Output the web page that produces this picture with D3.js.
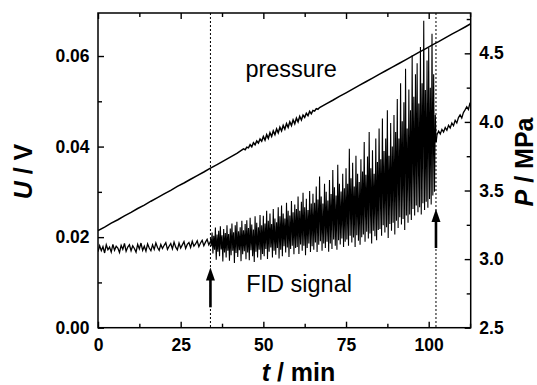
<!DOCTYPE html>
<html><head><meta charset="utf-8">
<script src="https://cdn.jsdelivr.net/npm/d3@7"></script>
<style>html,body{margin:0;padding:0;background:#fff;} svg{display:block;font-family:"Liberation Sans",Arial,sans-serif;}</style>
</head><body><svg id="chart" width="537" height="385"></svg>
<script>
// ---------- data ----------
const xTicks = [0, 25, 50, 75, 100];
const xMinor = [12.5, 37.5, 62.5, 87.5, 112.5];
const uTicks = [0, 0.02, 0.04, 0.06];
const uMinor = [0.01, 0.03, 0.05];
const pTicks = [2.5, 3.0, 3.5, 4.0, 4.5];
const pMinor = [2.75, 3.25, 3.75, 4.25, 4.75];

// pressure P (MPa) vs t (min)
const pressure = [
  [0,3.207],[2,3.233],[4,3.262],[6,3.287],[8,3.315],[10,3.341],[12,3.369],[14,3.394],[16,3.422],[18,3.448],
  [20,3.475],[22,3.501],[24,3.530],[26,3.555],[28,3.582],[30,3.609],[32,3.635],[34,3.663],[36,3.689],[38,3.716],
  [40,3.743],[42,3.770],[44,3.803],[44.5,3.797],[45,3.816],[45.5,3.811],[46,3.834],[46.5,3.819],[47,3.848],[47.5,3.833],
  [48,3.861],[48.5,3.846],[49,3.875],[49.5,3.859],[50,3.894],[50.5,3.867],[51,3.907],[51.5,3.880],[52,3.921],[52.5,3.894],
  [53,3.934],[53.5,3.907],[54,3.948],[54.5,3.920],[55,3.961],[55.5,3.934],[56,3.974],[56.5,3.947],[57,3.988],[57.5,3.961],
  [58,4.001],[58.5,3.974],[59,4.015],[59.5,3.987],[60,4.028],[60.5,4.001],[61,4.041],[61.5,4.014],[62,4.050],[62.5,4.033],
  [63,4.063],[63.5,4.046],[64,4.077],[64.5,4.059],[65,4.084],[65.5,4.079],[66,4.097],[66.5,4.092],[67,4.105],
  [69,4.132],[71,4.158],[73,4.186],[75,4.212],[77,4.239],[79,4.266],[81,4.293],[83,4.319],[85,4.346],[87,4.373],
  [89,4.400],[91,4.426],[93,4.453],[95,4.480],[97,4.507],[99,4.533],[101,4.560],[103,4.585],[105,4.612],[107,4.640],
  [109,4.665],[111,4.692],[112.7,4.716]
];

// FID signal U (V), sampled every 0.5 min
const fidStep = 0.5;
// quiet part, t = 0 ... 34
const fidQuiet = [
  0.0168,0.0181,0.0170,0.0179,0.0165,0.0183,0.0172,0.0178,0.0167,0.0184,
  0.0171,0.0180,0.0176,0.0166,0.0182,0.0173,0.0186,0.0169,0.0178,0.0183,
  0.0170,0.0181,0.0175,0.0167,0.0184,0.0174,0.0187,0.0171,0.0180,0.0169,
  0.0185,0.0176,0.0170,0.0183,0.0173,0.0187,0.0177,0.0171,0.0184,0.0175,
  0.0182,0.0188,0.0173,0.0180,0.0186,0.0174,0.0189,0.0178,0.0172,0.0187,
  0.0176,0.0183,0.0190,0.0175,0.0184,0.0188,0.0177,0.0191,0.0180,0.0185,
  0.0192,0.0179,0.0187,0.0193,0.0181,0.0189,0.0195,0.0183,0.0190
];
// oscillating part, t = 34 ... 102: upper and lower swing of each period
const fidOscStart = 34;
const fidHi = [
  0.0197,0.0210,0.0203,0.0221,0.0206,0.0214,0.0224,0.0204,0.0218,0.0209,0.0226,0.0207,
  0.0219,0.0230,0.0211,0.0226,0.0234,0.0213,0.0222,0.0236,0.0215,0.0229,
  0.0237,0.0220,0.0243,0.0228,0.0217,0.0246,0.0232,0.0222,0.0249,0.0226,
  0.0247,0.0230,0.0258,0.0236,0.0252,0.0229,0.0262,0.0241,0.0233,0.0266,
  0.0246,0.0270,0.0252,0.0241,0.0276,0.0258,0.0248,0.0280,0.0255,0.0272,
  0.0262,0.0290,0.0258,0.0278,0.0298,0.0266,0.0285,0.0260,0.0302,0.0274,
  0.0296,0.0276,0.0312,0.0283,0.0334,0.0290,0.0274,0.0318,0.0300,0.0281,
  0.0326,0.0295,0.0348,0.0310,0.0292,0.0360,0.0318,0.0301,0.0340,0.0308,
  0.0352,0.0318,0.0395,0.0330,0.0364,0.0312,0.0380,0.0340,0.0322,0.0372,
  0.0345,0.0410,0.0338,0.0378,0.0432,0.0352,0.0392,0.0340,0.0418,0.0366,
  0.0440,0.0372,0.0462,0.0390,0.0418,0.0480,0.0380,0.0452,0.0400,0.0470,
  0.0432,0.0505,0.0418,0.0540,0.0456,0.0498,0.0572,0.0440,0.0526,0.0480,
  0.0601,0.0510,0.0560,0.0584,0.0495,0.0620,0.0540,0.0678,0.0525,0.0590,
  0.0618,0.0530,0.0649,0.0560,0.0470
];
const fidLo = [
  0.0180,0.0164,0.0172,0.0150,0.0168,0.0158,0.0173,0.0146,0.0166,0.0155,0.0170,0.0148,
  0.0160,0.0170,0.0143,0.0165,0.0156,0.0171,0.0147,0.0162,0.0169,0.0151,
  0.0166,0.0149,0.0171,0.0158,0.0145,0.0168,0.0155,0.0172,0.0150,0.0163,
  0.0158,0.0174,0.0152,0.0168,0.0177,0.0155,0.0170,0.0161,0.0176,0.0153,
  0.0172,0.0158,0.0180,0.0166,0.0177,0.0156,0.0174,0.0181,0.0162,0.0176,
  0.0178,0.0163,0.0184,0.0170,0.0181,0.0160,0.0176,0.0186,0.0167,0.0180,
  0.0172,0.0188,0.0167,0.0183,0.0191,0.0170,0.0186,0.0176,0.0190,0.0168,
  0.0186,0.0174,0.0195,0.0181,0.0172,0.0193,0.0184,0.0197,0.0178,0.0190,
  0.0195,0.0181,0.0203,0.0188,0.0199,0.0178,0.0204,0.0192,0.0183,0.0200,
  0.0206,0.0190,0.0212,0.0197,0.0208,0.0186,0.0214,0.0202,0.0193,0.0216,
  0.0218,0.0203,0.0226,0.0210,0.0222,0.0198,0.0229,0.0214,0.0232,0.0206,
  0.0236,0.0220,0.0244,0.0228,0.0240,0.0216,0.0248,0.0232,0.0250,0.0238,
  0.0262,0.0248,0.0270,0.0255,0.0266,0.0250,0.0275,0.0260,0.0278,0.0265,
  0.0284,0.0272,0.0292,0.0300,0.0410
];
// smooth part after the transition, t = 102.5 ... 112.5
const fidTailStart = 102.5;
const fidTail = [
  0.0426,0.0434,0.0428,0.0438,0.0432,0.0442,0.0436,0.0447,0.0441,0.0452,
  0.0446,0.0458,0.0452,0.0464,0.0470,0.0463,0.0475,0.0481,0.0488,0.0482,0.0497
];

const markers = [34, 102.2];
const arrows = [{t: 34, from: 0.0045, to: 0.0133}, {t: 102.2, from: 0.0176, to: 0.0262}];
const notes = [{text: "pressure", t: 58.4, u: 0.0553}, {text: "FID signal", t: 60.8, u: 0.0079}];

// ---------- chart ----------
const svg = d3.select("#chart");
const L = 98, R = 470.7, T = 13, B = 327.7;
const x = d3.scaleLinear([0, 112.7], [L, R]);
const yU = d3.scaleLinear([0, 0.0695], [B, T]);
const yP = d3.scaleLinear([2.5, 4.794], [B, T]);

svg.append("defs").append("clipPath").attr("id", "plot")
  .append("rect").attr("x", L).attr("y", T).attr("width", R - L).attr("height", B - T);

// FID points
const quietPts = fidQuiet.map((u, i) => [i * fidStep, u]);
const oscPts = [];
fidHi.forEach((h, i) => {
  const t = fidOscStart + i * fidStep;
  oscPts.push([t, h]);
  oscPts.push([t + fidStep / 2, fidLo[i]]);
});
const tailPts = [oscPts[oscPts.length - 1]].concat(fidTail.map((u, i) => [fidTailStart + i * fidStep, u]));

const gPlot = svg.append("g").attr("clip-path", "url(#plot)");
const line = d3.line().x(d => x(d[0])).y(d => yU(d[1]));

// dotted markers
gPlot.selectAll("line.mark").data(markers).join("line")
  .attr("x1", d => x(d)).attr("x2", d => x(d)).attr("y1", T).attr("y2", B)
  .attr("stroke", "#000").attr("stroke-width", 1).attr("stroke-dasharray", "2,2");

gPlot.append("path").datum(oscPts).attr("d", line)
  .attr("fill", "none").attr("stroke", "#000").attr("stroke-width", 1.1);
gPlot.append("path").datum(quietPts).attr("d", line)
  .attr("fill", "none").attr("stroke", "#000").attr("stroke-width", 1.3);
gPlot.append("path").datum(tailPts).attr("d", line)
  .attr("fill", "none").attr("stroke", "#000").attr("stroke-width", 1.3);

gPlot.append("path").datum(pressure)
  .attr("d", d3.line().x(d => x(d[0])).y(d => yP(d[1])))
  .attr("fill", "none").attr("stroke", "#000").attr("stroke-width", 1.5);

// arrows
arrows.forEach(a => {
  const ax = x(a.t), y0 = yU(a.from), y1 = yU(a.to);
  svg.append("line").attr("x1", ax).attr("x2", ax).attr("y1", y0).attr("y2", y1 + 10)
    .attr("stroke", "#000").attr("stroke-width", 2.6);
  svg.append("path").attr("d", `M${ax},${y1}L${ax - 4.5},${y1 + 13}L${ax + 4.5},${y1 + 13}Z`).attr("fill", "#000");
});

// notes
svg.selectAll("text.note").data(notes).join("text")
  .attr("x", d => x(d.t)).attr("y", d => yU(d.u)).attr("text-anchor", "middle")
  .attr("font-size", 23.5).attr("fill", "#000").text(d => d.text);

// axes
function styleAxis(g) {
  g.select(".domain").remove();
  g.selectAll(".tick line").attr("stroke", "#000").attr("stroke-width", 1.4);
  g.selectAll(".tick text").attr("font-size", 17.5).attr("font-weight", "bold")
    .attr("fill", "#000").attr("font-family", '"Liberation Sans",Arial,sans-serif');
}
svg.append("g").attr("transform", `translate(0,${B})`)
  .call(d3.axisBottom(x).tickValues(xTicks).tickSize(-6).tickPadding(11).tickFormat(d3.format("d"))).call(styleAxis);
svg.append("g").attr("transform", `translate(0,${B})`)
  .call(d3.axisBottom(x).tickValues(xMinor).tickSize(-4).tickFormat("")).call(styleAxis);
svg.append("g").attr("transform", `translate(0,${T})`)
  .call(d3.axisTop(x).tickValues(xTicks).tickSize(-6).tickFormat("")).call(styleAxis);
svg.append("g").attr("transform", `translate(0,${T})`)
  .call(d3.axisTop(x).tickValues(xMinor).tickSize(-4).tickFormat("")).call(styleAxis);
svg.append("g").attr("transform", `translate(${L},0)`)
  .call(d3.axisLeft(yU).tickValues(uTicks).tickSize(-6).tickPadding(8.5).tickFormat(d3.format(".2f"))).call(styleAxis);
svg.append("g").attr("transform", `translate(${L},0)`)
  .call(d3.axisLeft(yU).tickValues(uMinor).tickSize(-4).tickFormat("")).call(styleAxis);
svg.append("g").attr("transform", `translate(${R},0)`)
  .call(d3.axisRight(yP).tickValues(pTicks).tickSize(-6).tickPadding(8.6).tickFormat(d3.format(".1f"))).call(styleAxis);
svg.append("g").attr("transform", `translate(${R},0)`)
  .call(d3.axisRight(yP).tickValues(pMinor).tickSize(-4).tickFormat("")).call(styleAxis);

// frame
svg.append("rect").attr("x", L).attr("y", T).attr("width", R - L).attr("height", B - T)
  .attr("fill", "none").attr("stroke", "#000").attr("stroke-width", 1.5);

// axis titles
const tx = svg.append("text").attr("x", 298.5).attr("y", 381).attr("text-anchor", "middle")
  .attr("font-size", 25).attr("font-weight", "bold");
tx.append("tspan").attr("font-style", "italic").text("t");
tx.append("tspan").text(" / min");

const ty = svg.append("text").attr("transform", "translate(32,171.5) rotate(-90)").attr("text-anchor", "middle")
  .attr("font-size", 25).attr("font-weight", "bold");
ty.append("tspan").attr("font-style", "italic").text("U");
ty.append("tspan").text(" / V");

const tp = svg.append("text").attr("transform", "translate(533,162) rotate(-90)").attr("text-anchor", "middle")
  .attr("font-size", 25).attr("font-weight", "bold");
tp.append("tspan").attr("font-style", "italic").text("P");
tp.append("tspan").text(" / MPa");
</script></body></html>
